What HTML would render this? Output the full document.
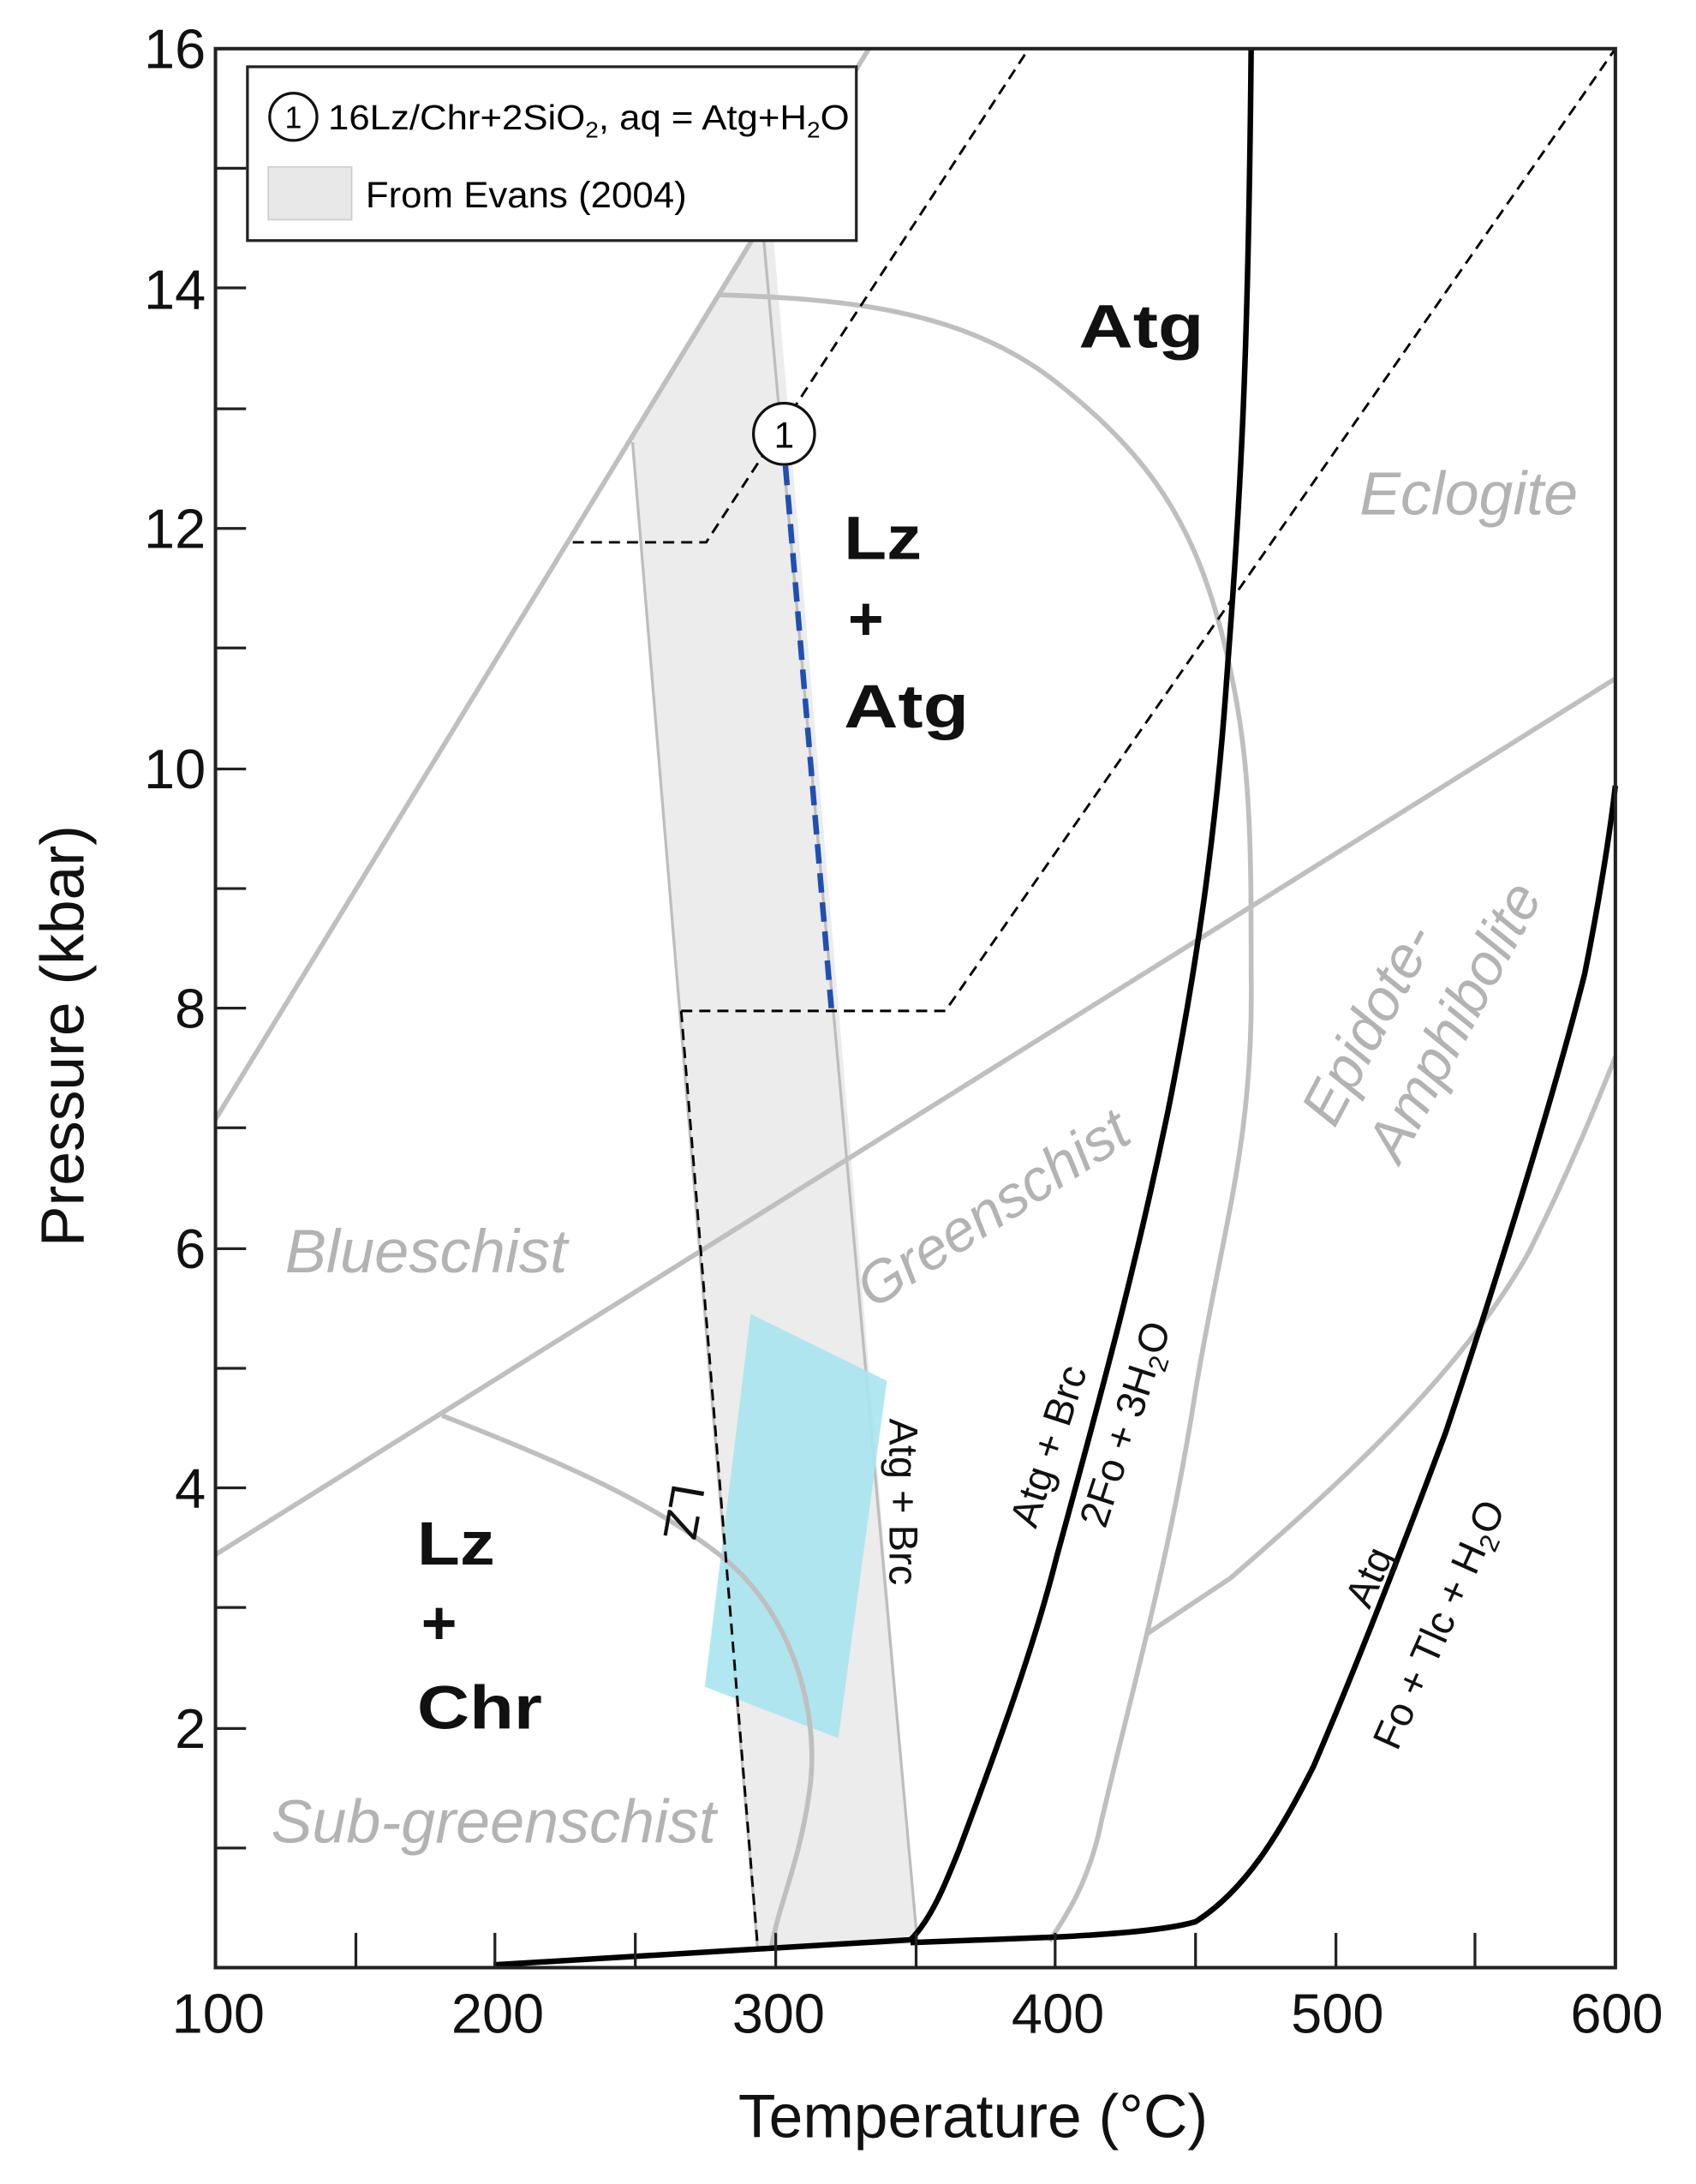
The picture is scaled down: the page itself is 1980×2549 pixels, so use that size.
<!DOCTYPE html>
<html><head><meta charset="utf-8"><style>
html,body{margin:0;padding:0;background:#fff;}
svg{display:block;}
text{font-family:"Liberation Sans",Arial,sans-serif;}
</style></head><body>
<svg width="1980" height="2549" viewBox="0 0 1220 1570.6" preserveAspectRatio="none" xmlns="http://www.w3.org/2000/svg">
<rect x="0" y="0" width="1220" height="1571" fill="#fff"/>
<polygon points="455,313 545,166 556,166 660,1398 545,1402" fill="#ececec"/>
<line x1="455" y1="318" x2="545" y2="1402" stroke="#bdbdbd" stroke-width="2"/>
<line x1="549" y1="168" x2="660" y2="1398" stroke="#bdbdbd" stroke-width="2"/>
<polygon points="540,945 638,993 603,1250 507,1213" fill="#a8e4ee" opacity="0.9"/>
<g fill="none" stroke="#bfbfbf" stroke-width="3.5">
<line x1="155" y1="805" x2="625" y2="35"/>
<line x1="155" y1="1118" x2="1162" y2="488"/>
<path d="M318,1018 C400,1050 470,1080 520,1120 C575,1165 590,1240 582,1290 C575,1340 560,1370 555,1400"/>
<path d="M518,212 C600,215 690,220 760,275 C830,330 860,380 880,460 C900,540 900,600 900,700 C902,820 880,880 860,1000 C840,1130 810,1230 790,1320 C780,1360 765,1380 755,1396"/>
<path d="M825,1175 L885,1135 C960,1070 1050,990 1100,900 C1130,840 1150,790 1162,760"/>
</g>
<g fill="none" stroke="#000" stroke-width="1.8" stroke-dasharray="8,5">
<polyline points="412,390 508,390 740,35"/>
<polyline points="490,727 680,727 1162,35"/>
<line x1="490" y1="727" x2="545" y2="1400"/>
</g>
<line x1="565" y1="335" x2="598" y2="725" stroke="#1f4fb0" stroke-width="4" stroke-dasharray="14,7"/>
<g fill="none" stroke="#000" stroke-width="4">
<path d="M355,1413 L655,1395 C670,1380 680,1355 690,1330 C720,1250 745,1180 760,1120 C790,1010 815,920 840,800 C860,700 875,600 883,480 C893,350 898,250 900,35"/>
<path d="M655,1397 L760,1393 C800,1391 840,1388 860,1382 C895,1360 920,1320 945,1270 C975,1200 1010,1110 1040,1030 C1080,910 1120,780 1140,700 C1150,650 1158,600 1162,565"/>
</g>
<rect x="155" y="35" width="1007" height="1380" fill="none" stroke="#222" stroke-width="2.5"/>
<g stroke="#222" stroke-width="2">
<line x1="155" y1="35" x2="177" y2="35"/><line x1="155" y1="121" x2="177" y2="121"/>
<line x1="155" y1="207" x2="177" y2="207"/><line x1="155" y1="294" x2="177" y2="294"/>
<line x1="155" y1="380" x2="177" y2="380"/><line x1="155" y1="466" x2="177" y2="466"/>
<line x1="155" y1="553" x2="177" y2="553"/><line x1="155" y1="639" x2="177" y2="639"/>
<line x1="155" y1="725" x2="177" y2="725"/><line x1="155" y1="811" x2="177" y2="811"/>
<line x1="155" y1="898" x2="177" y2="898"/><line x1="155" y1="984" x2="177" y2="984"/>
<line x1="155" y1="1070" x2="177" y2="1070"/><line x1="155" y1="1156" x2="177" y2="1156"/>
<line x1="155" y1="1243" x2="177" y2="1243"/><line x1="155" y1="1329" x2="177" y2="1329"/>
<line x1="256" y1="1390" x2="256" y2="1415"/><line x1="356" y1="1390" x2="356" y2="1415"/>
<line x1="457" y1="1390" x2="457" y2="1415"/><line x1="558" y1="1390" x2="558" y2="1415"/>
<line x1="659" y1="1390" x2="659" y2="1415"/><line x1="759" y1="1390" x2="759" y2="1415"/>
<line x1="860" y1="1390" x2="860" y2="1415"/><line x1="961" y1="1390" x2="961" y2="1415"/>
<line x1="1061" y1="1390" x2="1061" y2="1415"/>
</g>
<g font-size="40" fill="#111" text-anchor="end">
<text x="148" y="49">16</text><text x="148" y="222">14</text><text x="148" y="394">12</text>
<text x="148" y="567">10</text><text x="148" y="739">8</text><text x="148" y="912">6</text>
<text x="148" y="1084">4</text><text x="148" y="1257">2</text>
</g>
<g font-size="40" fill="#111" text-anchor="middle">
<text x="157" y="1462">100</text><text x="358" y="1462">200</text><text x="560" y="1462">300</text>
<text x="761" y="1462">400</text><text x="962" y="1462">500</text><text x="1163" y="1462">600</text>
<text x="700" y="1537" font-size="44">Temperature (°C)</text>
<text transform="translate(60,745) rotate(-90)" font-size="44">Pressure (kbar)</text>
</g>
<rect x="178" y="48" width="438" height="125" fill="#fff" stroke="#222" stroke-width="2"/>
<circle cx="211" cy="84" r="17" fill="#fff" stroke="#111" stroke-width="2"/>
<text x="211" y="92" font-size="22" text-anchor="middle">1</text>
<text x="236" y="93" font-size="25" textLength="375" lengthAdjust="spacingAndGlyphs">16Lz/Chr+2SiO<tspan font-size="16" dy="6">2</tspan><tspan dy="-6">, aq = Atg+H</tspan><tspan font-size="16" dy="6">2</tspan><tspan dy="-6">O</tspan></text>
<rect x="193" y="120" width="60" height="38" fill="#e8e8e8" stroke="#ccc"/>
<text x="263" y="149" font-size="26" textLength="231" lengthAdjust="spacingAndGlyphs">From Evans (2004)</text>
<circle cx="564" cy="312" r="22" fill="#fff" stroke="#111" stroke-width="2"/>
<text x="564" y="322" font-size="26" text-anchor="middle">1</text>
<g font-weight="bold" font-size="44" fill="#111">
<text x="776" y="250" textLength="90" lengthAdjust="spacingAndGlyphs">Atg</text>
<text x="607" y="402" textLength="56" lengthAdjust="spacingAndGlyphs">Lz</text><text x="610" y="460">+</text><text x="607" y="523" textLength="90" lengthAdjust="spacingAndGlyphs">Atg</text>
<text x="300" y="1125" textLength="56" lengthAdjust="spacingAndGlyphs">Lz</text><text x="303" y="1182">+</text><text x="300" y="1243" textLength="90" lengthAdjust="spacingAndGlyphs">Chr</text>
</g>
<g font-style="italic" font-size="44" fill="#b3b3b3">
<text x="978" y="370" textLength="157" lengthAdjust="spacingAndGlyphs">Eclogite</text>
<text x="205" y="915" textLength="203" lengthAdjust="spacingAndGlyphs">Blueschist</text>
<text x="195" y="1325" textLength="320" lengthAdjust="spacingAndGlyphs">Sub-greenschist</text>
<text transform="translate(628,942) rotate(-33)" font-size="42">Greenschist</text>
<text transform="translate(960,812) rotate(-62)" font-size="42">Epidote-</text>
<text transform="translate(1007,838) rotate(-62)" font-size="42">Amphibolite</text>
</g>
<g font-size="29" fill="#111">
<text transform="translate(640,1020) rotate(90)">Atg + Brc</text>
<text transform="translate(745,1100) rotate(-72)">Atg + Brc</text>
<text transform="translate(795,1100) rotate(-72)">2Fo + 3H<tspan font-size="19" dy="6">2</tspan><tspan dy="-6">O</tspan></text>
<text transform="translate(985,1158) rotate(-66)">Atg</text>
<text transform="translate(1005,1260) rotate(-66)">Fo + Tlc + H<tspan font-size="19" dy="6">2</tspan><tspan dy="-6">O</tspan></text>
<text transform="translate(484,1066) rotate(100)" font-size="34">LZ</text>
</g>
</svg>
</body></html>
